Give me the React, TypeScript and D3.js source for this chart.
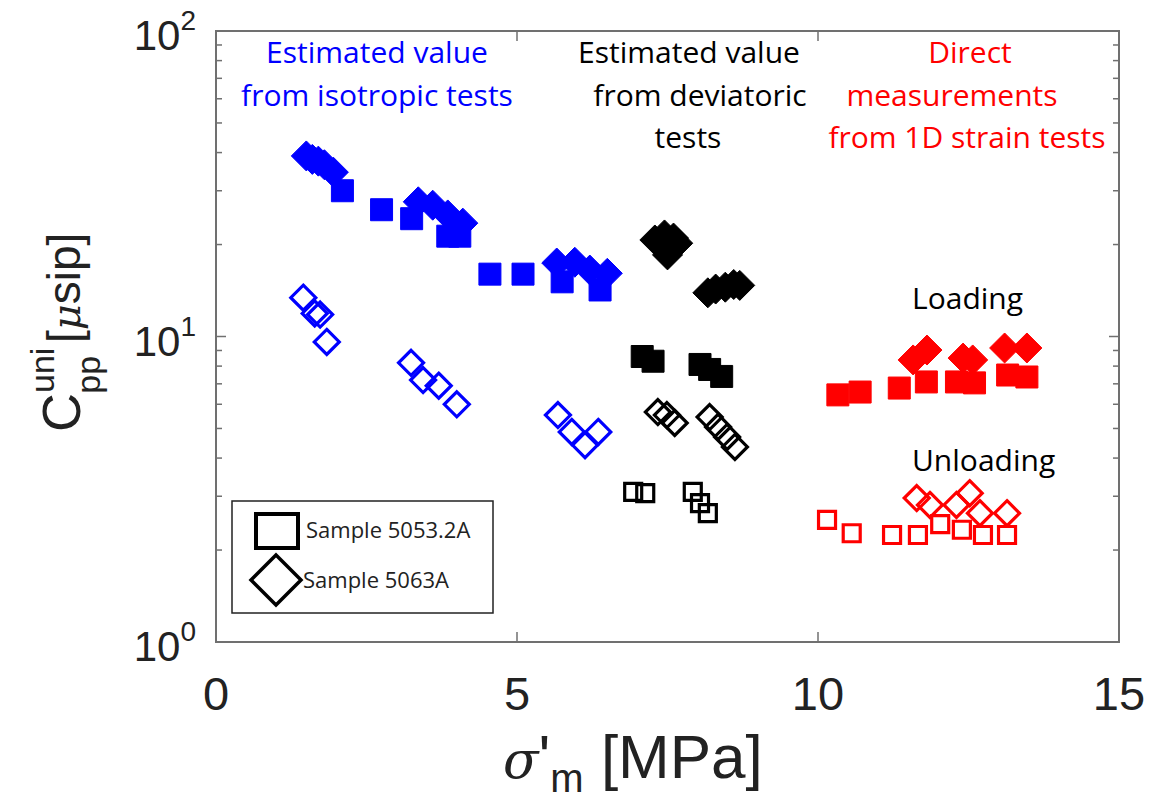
import * as d3 from "d3";

// points are [sigma'_m (MPa), C_pp (microsip)]
const isoLoadSquares = [[2.1, 30], [2.75, 26], [3.25, 24.3], [3.85, 21.3], [4.05, 21.3], [4.55, 16], [5.1, 16], [5.75, 15.1], [6.38, 14.2]];
const isoLoadDiamonds = [[1.5, 39], [1.6, 38], [1.7, 37.5], [1.8, 36.5], [1.95, 34.5], [3.36, 27.6], [3.6, 26.9], [3.85, 25], [4.1, 23.5], [5.66, 17.4], [5.96, 17.5], [6.21, 16.5], [6.5, 16.1]];
const isoUnloadDiamonds = [[1.45, 13.4], [1.64, 11.9], [1.73, 11.8], [1.84, 9.6], [3.24, 8.2], [3.44, 7.2], [3.7, 6.9], [4.0, 6.0], [5.68, 5.53], [5.91, 4.87], [6.13, 4.41], [6.35, 4.87]];

const devLoadSquares = [[7.08, 8.6], [7.26, 8.3], [8.04, 8.1], [8.2, 7.8], [8.4, 7.4]];
const devLoadDiamonds = [[7.29, 20.7], [7.45, 21.5], [7.6, 21], [7.67, 20.2], [7.5, 18.5], [7.55, 19.5], [8.17, 13.9], [8.3, 14.3], [8.46, 14.5], [8.6, 14.8], [8.7, 14.7]];
const devUnloadSquares = [[6.93, 3.1], [7.13, 3.07], [7.92, 3.1], [8.04, 2.85], [8.17, 2.64]];
const devUnloadDiamonds = [[7.34, 5.66], [7.49, 5.53], [7.62, 5.21], [8.2, 5.45], [8.34, 5.06], [8.49, 4.69], [8.62, 4.35]];

const oedLoadSquares = [[10.33, 6.44], [10.7, 6.58], [11.35, 6.78], [11.8, 7.1], [12.3, 7.1], [12.6, 7.05], [13.15, 7.48], [13.47, 7.37]];
const oedLoadDiamonds = [[11.58, 8.38], [11.81, 9.03], [12.41, 8.5], [12.57, 8.38], [13.1, 9.17], [13.47, 9.17]];
const oedUnloadSquares = [[10.15, 2.51], [10.56, 2.27], [11.23, 2.24], [11.66, 2.24], [12.03, 2.43], [12.39, 2.33], [12.74, 2.24], [13.14, 2.24]];
const oedUnloadDiamonds = [[11.64, 2.96], [11.86, 2.81], [12.3, 2.81], [12.52, 3.07], [12.69, 2.64], [13.14, 2.64]];

const xTicks = [0, 5, 10, 15];
const yDecades = [0, 1, 2];

const blue = "#0000ff";
const red = "#ff0000";
const axisFont = "'Liberation Sans', Arial, sans-serif";
const noteFont = "'Open Sans', 'Noto Sans', sans-serif";

const margin = { left: 216, right: 1119, top: 31, bottom: 642 };

const x = d3.scaleLinear().domain([0, 15]).range([margin.left, margin.right]);
const y = d3.scaleLog().domain([1, 100]).range([margin.bottom, margin.top]);

const squarePath = (s) => `M${-s / 2},${-s / 2}h${s}v${s}h${-s}Z`;
const diamondPath = (r) => `M0,${-r}L${r},0L0,${r}L${-r},0Z`;

const Marks = ({ data, shape, filled, color }) => {
    const d = shape === "square" ? squarePath(filled ? 22 : 17) : diamondPath(filled ? 15 : 12.5);
    return (
        <g>
            {data.map((p, i) => (
                <path
                    key={i}
                    d={d}
                    transform={`translate(${x(p[0])},${y(p[1])})`}
                    fill={filled ? color : "none"}
                    stroke={color}
                    strokeWidth={filled ? 1 : 3.2}
                />
            ))}
        </g>
    );
};

const App = () => {
    const minorTicks = [];
    for (let e = 0; e < 2; e++) {
        for (let k = 2; k <= 9; k++) minorTicks.push(k * Math.pow(10, e));
    }
    const frameColor = "#707070";

    return (
        <svg width={1174} height={804} style={{ display: "block", position: "absolute", left: 0, top: 0, background: "#fff" }}>
            <rect x={0} y={0} width={1174} height={804} fill="#fff" />

            {/* ticks */}
            <g stroke={frameColor} strokeWidth={1.5}>
                {xTicks.slice(1, -1).map(t => (
                    <g key={t}>
                        <line x1={x(t)} x2={x(t)} y1={margin.bottom} y2={margin.bottom - 10} />
                        <line x1={x(t)} x2={x(t)} y1={margin.top} y2={margin.top + 10} />
                    </g>
                ))}
                {[10].map(t => (
                    <g key={t}>
                        <line x1={margin.left} x2={margin.left + 10} y1={y(t)} y2={y(t)} />
                        <line x1={margin.right} x2={margin.right - 10} y1={y(t)} y2={y(t)} />
                    </g>
                ))}
                {minorTicks.map(t => (
                    <g key={"m" + t}>
                        <line x1={margin.left} x2={margin.left + 6} y1={y(t)} y2={y(t)} />
                        <line x1={margin.right} x2={margin.right - 6} y1={y(t)} y2={y(t)} />
                    </g>
                ))}
            </g>

            {/* annotations */}
            <g fontFamily={noteFont} fontSize={30} textAnchor="middle">
                <text fill={blue} x={377} y={63}>Estimated value</text>
                <text fill={blue} x={377} y={106}>from isotropic tests</text>
                <text fill="#000" x={689} y={63}>Estimated value</text>
                <text fill="#000" x={700} y={106}>from deviatoric</text>
                <text fill="#000" x={688} y={148}>tests</text>
                <text fill={red} x={970} y={63}>Direct</text>
                <text fill={red} x={952} y={106}>measurements</text>
                <text fill={red} x={967} y={148}>from 1D strain tests</text>
            </g>
            <g fontFamily={noteFont} fontSize={30} fill="#000">
                <text x={912} y={309}>Loading</text>
                <text x={912} y={471}>Unloading</text>
            </g>

            {/* data */}
            <Marks data={isoLoadDiamonds} shape="diamond" filled color={blue} />
            <Marks data={isoLoadSquares} shape="square" filled color={blue} />
            <Marks data={isoUnloadDiamonds} shape="diamond" color={blue} />

            <Marks data={devLoadDiamonds} shape="diamond" filled color="#000" />
            <Marks data={devLoadSquares} shape="square" filled color="#000" />
            <Marks data={devUnloadDiamonds} shape="diamond" color="#000" />
            <Marks data={devUnloadSquares} shape="square" color="#000" />

            <Marks data={oedLoadDiamonds} shape="diamond" filled color={red} />
            <Marks data={oedLoadSquares} shape="square" filled color={red} />
            <Marks data={oedUnloadDiamonds} shape="diamond" color={red} />
            <Marks data={oedUnloadSquares} shape="square" color={red} />

            {/* legend */}
            <g>
                <rect x={232} y={501} width={261} height={112} fill="#fff" stroke="#222" strokeWidth={1.5} />
                <rect x={256} y={514} width={42} height={34} fill="none" stroke="#000" strokeWidth={4} />
                <path d={diamondPath(25)} transform="translate(276,580)" fill="none" stroke="#000" strokeWidth={3.5} />
                <g fontFamily={noteFont} fontSize={22} fill="#222">
                    <text x={306} y={538}>Sample 5053.2A</text>
                    <text x={303} y={588}>Sample 5063A</text>
                </g>
            </g>

            {/* frame */}
            <rect x={margin.left} y={margin.top} width={margin.right - margin.left} height={margin.bottom - margin.top}
                fill="none" stroke={frameColor} strokeWidth={2} />

            {/* tick labels */}
            <g fontFamily={axisFont} fontSize={47} fill="#222" textAnchor="middle">
                {xTicks.map(t => (
                    <text key={t} x={x(t)} y={710}>{t}</text>
                ))}
            </g>
            <g fontFamily={axisFont} fill="#222">
                {yDecades.map(e => (
                    <text key={e} x={196} y={y(Math.pow(10, e)) + 19} fontSize={42} textAnchor="end">
                        10<tspan fontSize={28} dy={-20}>{e}</tspan>
                    </text>
                ))}
            </g>

            {/* axis labels */}
            <text x={503} y={778} fontFamily={axisFont} fontSize={62} fill="#222">
                <tspan fontStyle="italic" fontFamily="'DejaVu Serif', serif" fontSize={52}>σ</tspan>
                <tspan>'</tspan>
                <tspan fontSize={40} dy={14}>m</tspan>
                <tspan dy={-14}> [MPa]</tspan>
            </text>
            <text transform="translate(80,432) rotate(-90)" fontFamily={axisFont} fontSize={54} fill="#222">
                <tspan>C</tspan>
                <tspan fontSize={34} dy={-26}>uni</tspan>
                <tspan fontSize={34} dx={-46} dy={46}>pp</tspan>
                <tspan dy={-20} fontSize={46}> [</tspan>
                <tspan fontStyle="italic" fontFamily="'DejaVu Serif', serif" fontSize={40}>μ</tspan>
                <tspan fontSize={46}>sip]</tspan>
            </text>
        </svg>
    );
};

export default App;
